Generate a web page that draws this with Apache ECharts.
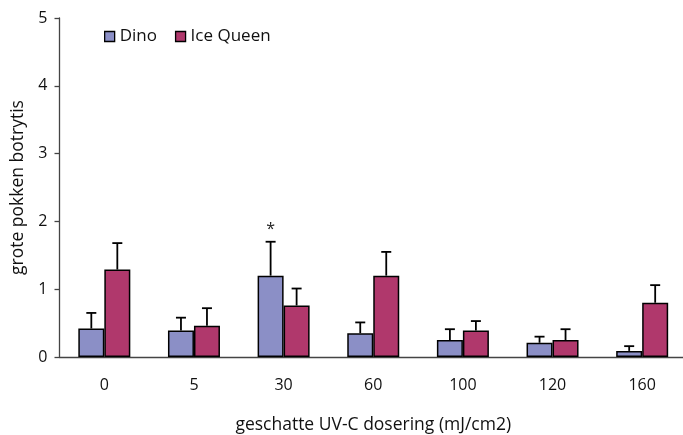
<!DOCTYPE html>
<html>
<head>
<meta charset="utf-8">
<script src="https://cdn.jsdelivr.net/npm/echarts@6/dist/echarts.min.js"></script>
<style>
html,body{margin:0;padding:0;background:#fff;}
#c{width:683px;height:435px;}
</style>
</head>
<body>
<div id="c"></div>
<script>
const categories = ['0', '5', '30', '60', '100', '120', '160'];
const dinoValues = [0.42, 0.39, 1.20, 0.35, 0.25, 0.21, 0.09];
const dinoErrors = [0.23, 0.19, 0.50, 0.16, 0.16, 0.09, 0.07];
const iceQueenValues = [1.29, 0.46, 0.76, 1.20, 0.39, 0.25, 0.80];
const iceQueenErrors = [0.39, 0.26, 0.25, 0.35, 0.14, 0.16, 0.26];
const dinoMarks = ['', '', '*', '', '', '', ''];
const iceQueenMarks = ['', '', '', '', '', '', ''];
const yTicks = [0, 1, 2, 3, 4, 5];

const FONT = '"Open Sans", "Noto Sans", sans-serif';
const BAR_W = 26;
const DINO_COLOR = '#8b8fc6';
const IQ_COLOR = '#b0386c';

function errSeries(values, errors, marks, side) {
  return {
    type: 'custom',
    z: 5,
    silent: true,
    data: values.map((v, i) => [i, v, v + errors[i]]),
    renderItem: function (params, api) {
      const i = api.value(0);
      const base = api.coord([i, api.value(1)]);
      const top = api.coord([i, api.value(2)]);
      const x = base[0] + side * BAR_W / 2;
      const cap = 5;
      const children = [
        {type: 'line', shape: {x1: x, y1: base[1], x2: x, y2: top[1]}, style: {stroke: '#000', lineWidth: 1.8}},
        {type: 'line', shape: {x1: x - cap, y1: top[1], x2: x + cap, y2: top[1]}, style: {stroke: '#000', lineWidth: 1.8}}
      ];
      const mark = marks[i];
      if (mark) {
        children.push({type: 'text', style: {text: mark, x: x, y: top[1] - 4, align: 'center', verticalAlign: 'bottom', fontSize: 16, fontFamily: FONT, fill: '#222'}});
      }
      return {type: 'group', children: children};
    }
  };
}

const chart = echarts.init(document.getElementById('c'));
chart.setOption({
  animation: false,
  backgroundColor: '#fff',
  textStyle: {fontFamily: FONT},
  grid: {left: 59.5, width: 627.5, top: 18, bottom: 78, containLabel: false, outerBoundsMode: 'none'},
  legend: {
    left: 99, top: 23,
    itemWidth: 10, itemHeight: 10, itemGap: 18,
    textStyle: {fontSize: 17, fontFamily: FONT, color: '#111'},
    data: [
      {name: 'Dino', icon: 'rect', itemStyle: {color: DINO_COLOR, borderColor: '#000', borderWidth: 1.3}},
      {name: 'Ice Queen', icon: 'rect', itemStyle: {color: IQ_COLOR, borderColor: '#000', borderWidth: 1.3}}
    ]
  },
  xAxis: {
    type: 'category',
    data: categories,
    name: 'geschatte UV-C dosering (mJ/cm2)',
    nameLocation: 'middle',
    nameGap: 59,
    nameTextStyle: {fontSize: 17.5, fontFamily: FONT, color: '#111'},
    axisLine: {lineStyle: {color: '#444', width: 1.3}},
    axisTick: {length: 7, lineStyle: {color: '#444', width: 1.3}},
    axisLabel: {fontSize: 16, fontFamily: FONT, color: '#111', margin: 20},
    splitLine: {show: false}
  },
  yAxis: {
    type: 'value',
    min: yTicks[0], max: yTicks[yTicks.length - 1], interval: 1,
    name: 'grote pokken botrytis',
    nameLocation: 'middle',
    nameGap: 32,
    nameTextStyle: {fontSize: 17.5, fontFamily: FONT, color: '#111'},
    axisLine: {show: true, lineStyle: {color: '#444', width: 1.3}},
    axisTick: {show: true, length: 5, lineStyle: {color: '#444', width: 1.3}},
    axisLabel: {fontSize: 16, fontFamily: FONT, color: '#111', margin: 12},
    splitLine: {show: false}
  },
  series: [
    {name: 'Dino', type: 'bar', data: dinoValues, barWidth: BAR_W, barGap: '0%',
      itemStyle: {color: DINO_COLOR, borderColor: '#000', borderWidth: 1.5}},
    {name: 'Ice Queen', type: 'bar', data: iceQueenValues, barWidth: BAR_W, barGap: '0%',
      itemStyle: {color: IQ_COLOR, borderColor: '#000', borderWidth: 1.5}},
    errSeries(dinoValues, dinoErrors, dinoMarks, -1),
    errSeries(iceQueenValues, iceQueenErrors, iceQueenMarks, 1)
  ]
});
</script>
</body>
</html>
